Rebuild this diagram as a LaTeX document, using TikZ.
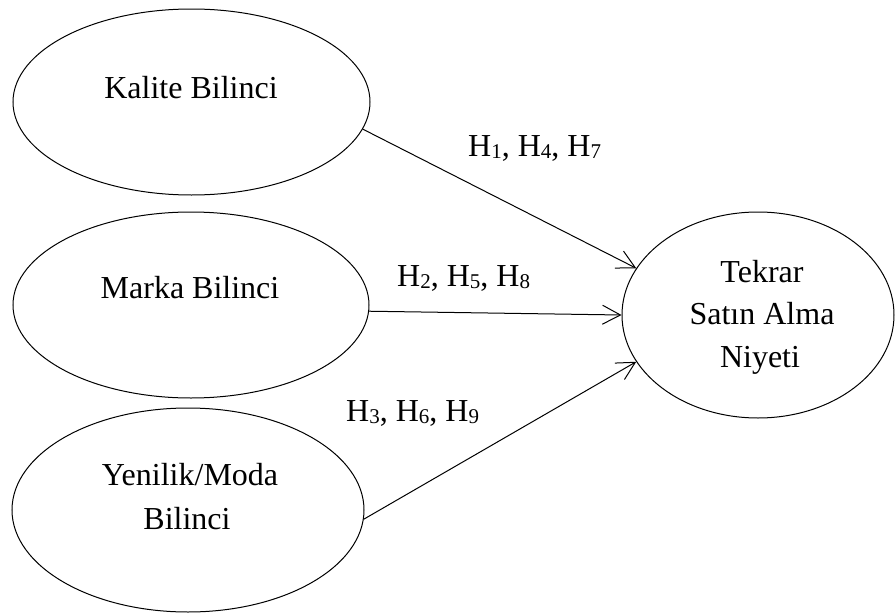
\documentclass[tikz,border=0pt]{standalone}
\usepackage{fontspec}
\setmainfont{Liberation Serif}
\usetikzlibrary{shapes.geometric,arrows.meta}
\newcommand\hsub[1]{\raisebox{-0.07em}{\fontsize{21}{21}\selectfont #1}}
\begin{document}
\begin{tikzpicture}[x=1pt,y=-1pt,
  oval/.style={draw, ellipse, line width=1pt, inner sep=0pt},
  lbl/.style={anchor=base, font=\fontsize{32}{43}\selectfont, inner sep=0pt},
  hyp/.style={anchor=base west, font=\fontsize{32}{43}\selectfont, inner sep=0pt},
  link/.style={line width=1pt, -{Straight Barb[length=18pt,width=19pt,line width=1pt]}}]
\fill[white] (0,0) rectangle (895,613);
\useasboundingbox (0,0) rectangle (895,613);
\node[oval, minimum width=357pt, minimum height=186pt] (kal) at (191.5,102) {};
\node[oval, minimum width=356pt, minimum height=186pt] (mar) at (191,305) {};
\node[oval, minimum width=352pt, minimum height=204pt] (yen) at (188,510) {};
\node[oval, minimum width=272pt, minimum height=206pt] (tek) at (758,315) {};
\node[lbl] (kalt) at (191,98) {Kalite Bilinci};
\node[lbl] (mart) at (190,298) {Marka Bilinci};
\node[lbl] (yent1) at (190,485) {Yenilik/Moda};
\node[lbl] (yent2) at (187,529) {Bilinci};
\node[lbl] (tekt1) at (762,282) {Tekrar};
\node[lbl] (tekt2) at (762,324) {Satın Alma};
\node[lbl] (tekt3) at (760,367) {Niyeti};
\node[hyp] (h1) at (468,156) {H\hsub{1}, H\hsub{4}, H\hsub{7}};
\node[hyp] (h2) at (397,286) {H\hsub{2}, H\hsub{5}, H\hsub{8}};
\node[hyp] (h3) at (346,421) {H\hsub{3}, H\hsub{6}, H\hsub{9}};
\draw[link] (kal.-9) -- (tek.159);
\draw[link] (mar.-2.6) -- (tek.west);
\draw[link] (yen.-3.3) -- (tek.201);
\end{tikzpicture}
\end{document}
